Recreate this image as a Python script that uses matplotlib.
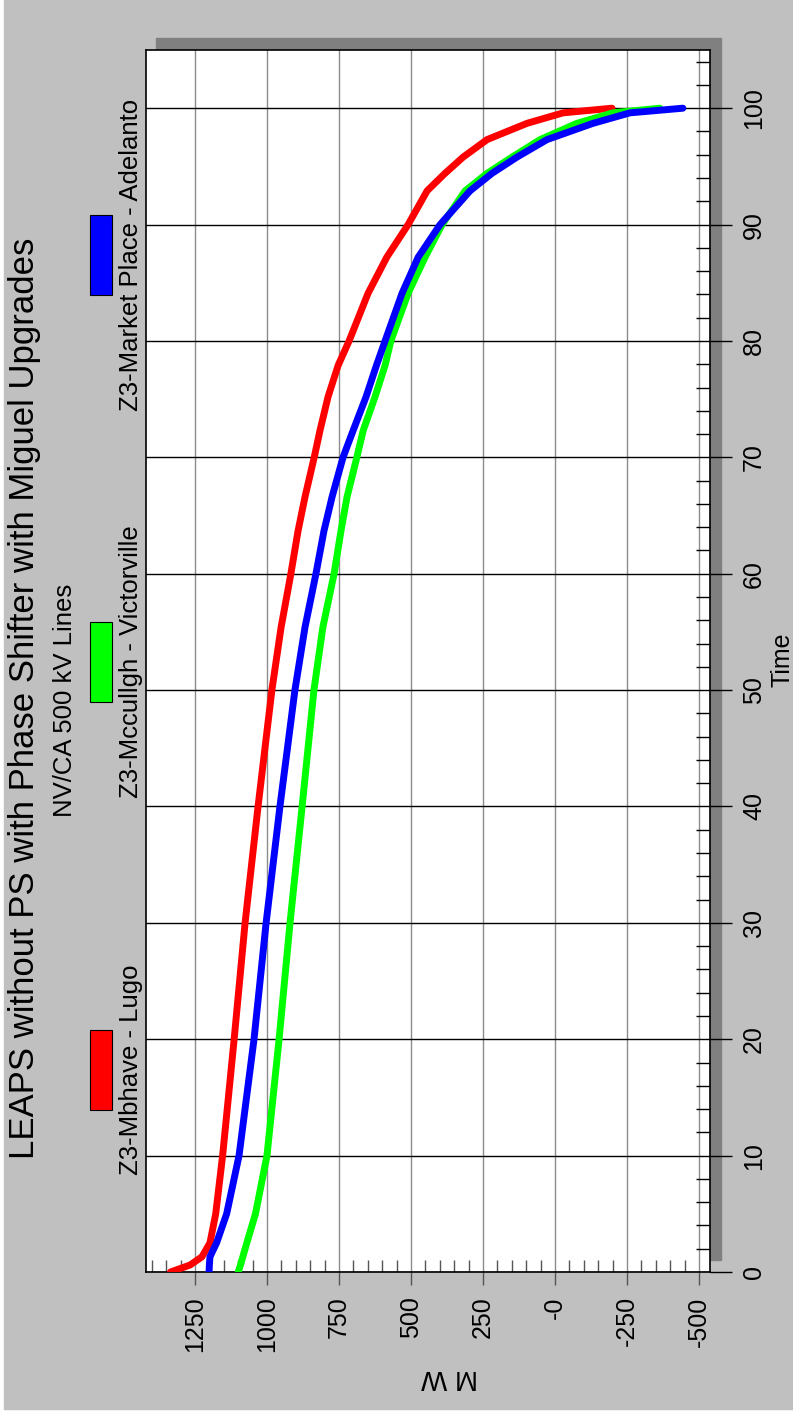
import matplotlib
matplotlib.use("Agg")
import matplotlib.pyplot as plt
from matplotlib.patches import Rectangle
from matplotlib.ticker import MultipleLocator

plt.rcParams["font.family"] = ["Liberation Sans", "DejaVu Sans"]

# 数据：时间（%）与三条线路的 MW 值
time = [0, 0.6, 1.3, 2.5, 5, 10, 20, 30, 40, 50, 55.4, 60, 63.7, 66.6, 70,
        72.3, 75.2, 77.9, 80, 84.1, 87.2, 90, 92.9, 94.4, 95.8, 97.3, 98.7, 99.6, 100]
mw_mohave_lugo = [1335, 1267, 1226, 1198, 1178, 1154, 1114, 1076, 1031, 983, 951,
                  917, 892, 868, 836, 816, 788, 753, 715, 649, 584, 510, 444, 382,
                  319, 236, 97, -28, -198]
mw_mccullgh_victorville = [1100, 1092, 1084, 1070, 1040, 1000, 958, 920, 878, 837,
                           806, 767, 743, 722, 688, 666, 625, 590, 570, 510, 451, 392,
                           312, 236, 149, 52, -76, -201, -364]
mw_market_adelanto = [1201, 1200, 1198, 1175, 1140, 1097, 1045, 1003, 955, 903, 868,
                      830, 802, 774, 736, 701, 656, 620, 590, 531, 475, 399, 295, 219,
                      132, 28, -132, -260, -444]

series_names = ["Z3-Mbhave - Lugo", "Z3-Mccullgh - Victorville",
                "Z3-Market Place - Adelanto"]
series_colors = ["#ff0000", "#00ff00", "#0000ff"]
mw_ticks = [1250, 1000, 750, 500, 250, 0, -250, -500]
mw_tick_labels = ["1250", "1000", "750", "500", "250", "-0", "-250", "-500"]
time_ticks = [0, 10, 20, 30, 40, 50, 60, 70, 80, 90, 100]

W, H = 793, 1416


def fx(x):
    return x / W


def fy(y):
    return 1 - y / H


fig = plt.figure(figsize=(W / 100, H / 100), dpi=100, facecolor="white")

# 灰色背景和阴影
fig.patches.append(Rectangle((fx(4), fy(1409)), fx(793) - fx(4), fy(0) - fy(1409),
                             transform=fig.transFigure, color="#c0c0c0", zorder=0))
fig.patches.append(Rectangle((fx(156), fy(1260)), fx(721) - fx(156), fy(38) - fy(1260),
                             transform=fig.transFigure, color="#808080", zorder=1))

ax = fig.add_axes([fx(146), fy(1272), fx(710) - fx(146), fy(50) - fy(1272)])
ax.set_facecolor("white")
ax.set_zorder(2)

ax.set_xlim(1420, -538)
ax.set_ylim(0, 105)

for vals, color in zip([mw_mohave_lugo, mw_mccullgh_victorville, mw_market_adelanto],
                       series_colors):
    ax.plot(vals, time, color=color, lw=5, solid_capstyle="round",
            solid_joinstyle="round", zorder=3)

# 网格
for v in mw_ticks:
    ax.axvline(v, color="#8c8c8c", lw=1.0, zorder=1)
for t in time_ticks:
    ax.axhline(t, color="black", lw=1.0, zorder=1)

for sp in ax.spines.values():
    sp.set_color("black")
    sp.set_linewidth(1.2)

# MW 轴（底部）
ax.set_xticks(mw_ticks)
ax.set_xticklabels(mw_tick_labels, rotation=90, fontsize=18)
ax.xaxis.set_minor_locator(MultipleLocator(50))
ax.tick_params(axis="x", which="major", direction="out", length=9.5, width=1,
               color="#555555", pad=8)
ax.tick_params(axis="x", which="minor", direction="in", length=8.5, width=1,
               color="#555555")

# 时间轴（右侧）
ax.yaxis.tick_right()
ax.set_yticks(time_ticks)
ax.set_yticklabels([str(t) for t in time_ticks], rotation=90, va="center", fontsize=18)
ax.yaxis.set_minor_locator(MultipleLocator(2))
ax.tick_params(axis="y", which="major", direction="out", length=16, width=1,
               color="black", pad=7, left=False, right=True)
ax.tick_params(axis="y", which="minor", direction="in", length=10, width=1,
               color="black", left=False, right=True)

# 标题
fig.text(fx(25), fy(698), "LEAPS without PS with Phase Shifter with Miguel Upgrades",
         rotation=90, ha="center", va="center", fontsize=25)
fig.text(fx(65), fy(700), "NV/CA 500 kV Lines", rotation=90, ha="center",
         va="center", fontsize=18.5)

# 图例
legend_y = [1070, 662, 255]
for name, color, yc in zip(series_names, series_colors, legend_y):
    fig.patches.append(Rectangle((fx(90), fy(yc + 40)), fx(112) - fx(90), fy(yc - 40) - fy(yc + 40),
                                 transform=fig.transFigure, facecolor=color,
                                 edgecolor="black", lw=0.8, zorder=2))
    fig.text(fx(131), fy(yc), name, rotation=90, ha="center", va="center", fontsize=18.5)

fig.text(fx(783), fy(660), "Time", rotation=90, ha="center", va="center", fontsize=18)
fig.text(fx(450), fy(1377), "M W", rotation=180, ha="center", va="center",
         fontsize=20, fontweight="light")

fig.savefig("out.png", dpi=100, facecolor=fig.get_facecolor())
plt.close(fig)
